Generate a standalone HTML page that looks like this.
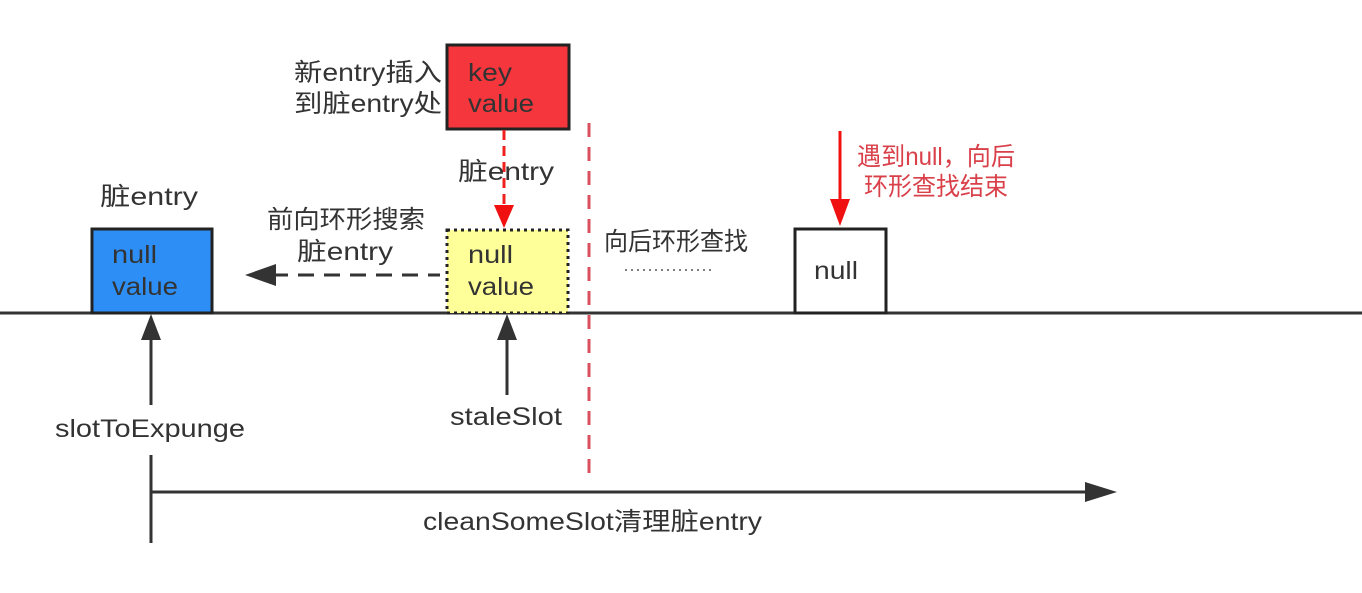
<!DOCTYPE html>
<html><head><meta charset="utf-8"><style>
body{margin:0;background:#fff}
text{font-family:"Liberation Sans","Noto Sans CJK SC",sans-serif;font-size:25px;fill:#333}
</style></head><body>
<svg width="1362" height="588" viewBox="0 0 1362 588" xmlns="http://www.w3.org/2000/svg">
<line x1="0" y1="313" x2="1362" y2="313" stroke="#333" stroke-width="3"/>
<line x1="589" y1="123" x2="589" y2="480" stroke="#d9505f" stroke-width="3" stroke-dasharray="14,10"/>
<rect x="92" y="229" width="120" height="84" fill="#2d8ff5" stroke="#222" stroke-width="3"/>
<text x="112" y="263" textLength="45" lengthAdjust="spacingAndGlyphs">null</text>
<text x="112" y="295" textLength="66" lengthAdjust="spacingAndGlyphs">value</text>
<text x="100" y="205" textLength="98" lengthAdjust="spacingAndGlyphs">脏entry</text>
<rect x="447" y="45" width="122" height="84" fill="#f5363c" stroke="#222" stroke-width="3"/>
<text x="468" y="81" textLength="44" lengthAdjust="spacingAndGlyphs">key</text>
<text x="468" y="112" textLength="66" lengthAdjust="spacingAndGlyphs">value</text>
<text x="294" y="81" textLength="148" lengthAdjust="spacingAndGlyphs">新entry插入</text>
<text x="294" y="112" textLength="148" lengthAdjust="spacingAndGlyphs">到脏entry处</text>
<line x1="504" y1="130" x2="504" y2="210" stroke="#f02020" stroke-width="3" stroke-dasharray="10,6"/>
<polygon points="494,205 514,205 504,228" fill="#f01010"/>
<text x="458" y="180" textLength="96" lengthAdjust="spacingAndGlyphs">脏entry</text>
<rect x="447" y="230" width="121" height="83" fill="#ffff99" stroke="#222" stroke-width="3" stroke-dasharray="3,4"/>
<text x="468" y="263" textLength="45" lengthAdjust="spacingAndGlyphs">null</text>
<text x="468" y="295" textLength="66" lengthAdjust="spacingAndGlyphs">value</text>
<line x1="272" y1="275" x2="440" y2="275" stroke="#333" stroke-width="3" stroke-dasharray="16,10"/>
<polygon points="245,275 276,264 276,286" fill="#333"/>
<text x="267" y="228" textLength="158" lengthAdjust="spacingAndGlyphs">前向环形搜索</text>
<text x="297" y="260" textLength="96" lengthAdjust="spacingAndGlyphs">脏entry</text>
<rect x="795" y="229" width="91" height="84" fill="#fff" stroke="#222" stroke-width="3"/>
<text x="814" y="279" textLength="44" lengthAdjust="spacingAndGlyphs">null</text>
<line x1="840" y1="131" x2="840" y2="205" stroke="#f01010" stroke-width="3"/>
<polygon points="830,199 850,199 840,226" fill="#f01010"/>
<text x="857" y="165" textLength="158" lengthAdjust="spacingAndGlyphs" style="fill:#d9404a">遇到null，向后</text>
<text x="864" y="195" textLength="144" lengthAdjust="spacingAndGlyphs" style="fill:#d9404a">环形查找结束</text>
<text x="604" y="250" textLength="144" lengthAdjust="spacingAndGlyphs">向后环形查找</text>
<line x1="625" y1="270" x2="712" y2="270" stroke="#555" stroke-width="1.5" stroke-dasharray="2,4"/>
<line x1="151" y1="338" x2="151" y2="405" stroke="#333" stroke-width="3"/>
<polygon points="141,340 161,340 151,314" fill="#333"/>
<text x="55" y="437" textLength="190" lengthAdjust="spacingAndGlyphs">slotToExpunge</text>
<line x1="507" y1="338" x2="507" y2="395" stroke="#333" stroke-width="3"/>
<polygon points="497,340 517,340 507,314" fill="#333"/>
<text x="450" y="425" textLength="112" lengthAdjust="spacingAndGlyphs">staleSlot</text>
<line x1="151" y1="455" x2="151" y2="543" stroke="#333" stroke-width="3"/>
<line x1="151" y1="492" x2="1090" y2="492" stroke="#333" stroke-width="3"/>
<polygon points="1085,482 1117,492 1085,502" fill="#333"/>
<text x="423" y="530" textLength="339" lengthAdjust="spacingAndGlyphs">cleanSomeSlot清理脏entry</text>
</svg>
</body></html>
